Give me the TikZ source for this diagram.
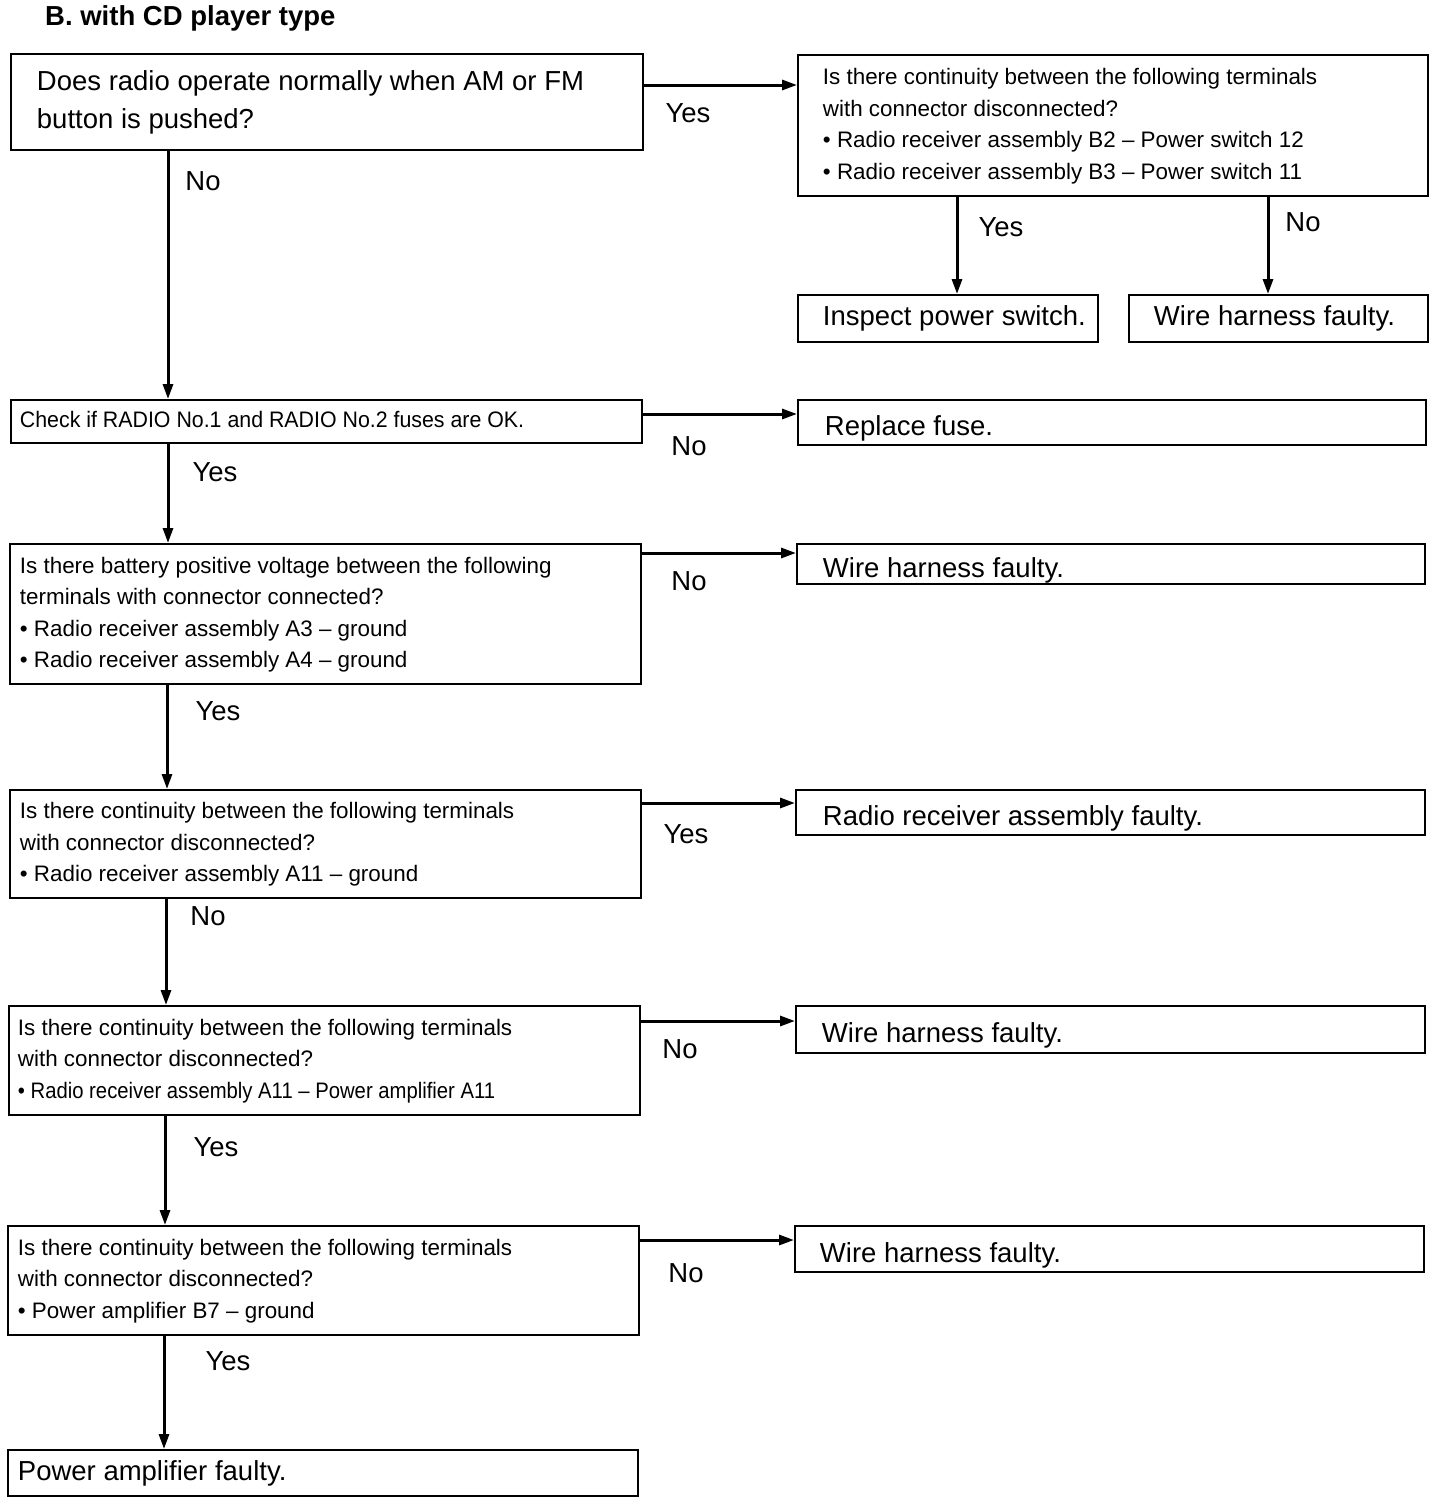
\documentclass[tikz,border=0pt]{standalone}
\usepackage{fontspec}
\setmainfont{Liberation Sans}
\usepackage{graphicx}
\usetikzlibrary{arrows.meta}
\newcommand\boxtext[3]{\makebox[#1][l]{\hspace*{#2}\begin{tabular}[c]{@{}l@{}}#3\end{tabular}}}
\newcommand\boxtextlow[3]{\makebox[#1][l]{\hspace*{#2}\raisebox{-6pt}[\height][\depth]{#3}}}
\tikzset{
  box/.style={draw, line width=1.9pt, anchor=north west, inner sep=0pt},
  small/.style={font=\fontsize{22.4}{31.5}\selectfont},
  big/.style={font=\fontsize{27.5}{37.5}\selectfont},
  lab/.style={font=\fontsize{27.5}{30}\selectfont, inner sep=0pt},
  ttl/.style={font=\fontsize{27.5}{30}\selectfont\bfseries, inner sep=0pt, anchor=west},
  arr/.style={line width=3pt, -{Triangle[length=15pt,width=10pt]}},
}
\begin{document}
\begin{tikzpicture}[x=1pt,y=-1pt]
\fill[white] (0,0) rectangle (1440,1504);
\useasboundingbox (0,0) rectangle (1440,1504);

\node[ttl] (title) at (45,18) {B. with CD player type};

\node[box, big, minimum height=96pt] (b1) at (10,53)
  {\boxtext{632pt}{26pt}{Does radio operate normally when AM or FM\\button is pushed?}};
\node[box, small, minimum height=141pt] (b2) at (797,54)
  {\boxtext{630pt}{25pt}{Is there continuity between the following terminals\\with connector disconnected?\\• Radio receiver assembly B2 – Power switch 12\\• Radio receiver assembly B3 – Power switch 11}};
\node[box, big, minimum height=47pt] (b3) at (797,294)
  {\boxtext{300pt}{25pt}{Inspect power switch.}};
\node[box, big, minimum height=47pt] (b4) at (1128,294)
  {\boxtext{299pt}{25pt}{Wire harness faulty.}};
\node[box, small, minimum height=43pt] (b5) at (10,399)
  {\boxtext{631pt}{9pt}{\scalebox{0.953}[1]{Check if RADIO No.1 and RADIO No.2 fuses are OK.}}};
\node[box, big, minimum height=45pt] (b6) at (797,399)
  {\boxtextlow{628pt}{27pt}{Replace fuse.}};
\node[box, small, minimum height=140pt] (b7) at (9,543)
  {\boxtext{631pt}{10pt}{Is there battery positive voltage between the following\\terminals with connector connected?\\• Radio receiver assembly A3 – ground\\• Radio receiver assembly A4 – ground}};
\node[box, big, minimum height=40pt] (b8) at (796,543)
  {\boxtextlow{628pt}{26pt}{Wire harness faulty.}};
\node[box, small, minimum height=108pt] (b9) at (9,789)
  {\boxtext{631pt}{10pt}{Is there continuity between the following terminals\\with connector disconnected?\\• Radio receiver assembly A11 – ground}};
\node[box, big, minimum height=45pt] (b10) at (795,789)
  {\boxtextlow{629pt}{27pt}{Radio receiver assembly faulty.}};
\node[box, small, minimum height=109pt] (b11) at (8,1005)
  {\boxtext{631pt}{9pt}{Is there continuity between the following terminals\\with connector disconnected?\\\scalebox{0.905}[1]{• Radio receiver assembly A11 – Power amplifier A11}}};
\node[box, big, minimum height=47pt] (b12) at (795,1005)
  {\boxtextlow{629pt}{26pt}{Wire harness faulty.}};
\node[box, small, minimum height=109pt] (b13) at (7,1225)
  {\boxtext{631pt}{10pt}{Is there continuity between the following terminals\\with connector disconnected?\\• Power amplifier B7 – ground}};
\node[box, big, minimum height=46pt] (b14) at (794,1225)
  {\boxtextlow{629pt}{25pt}{Wire harness faulty.}};
\node[box, big, minimum height=46pt] (b15) at (7,1449)
  {\boxtext{630pt}{10pt}{Power amplifier faulty.}};

\draw[arr] ([yshift=-32pt]b1.north east) -- ([yshift=-31pt]b2.north west);
\draw[arr] ([xshift=160pt]b2.south west) -- ([xshift=160pt]b3.north west);
\draw[arr] ([xshift=471pt]b2.south west) -- ([xshift=140pt]b4.north west);
\draw[arr] ([xshift=158pt]b1.south west) -- ([xshift=158pt]b5.north west);
\draw[arr] ([yshift=-15pt]b5.north east) -- ([yshift=-15pt]b6.north west);
\draw[arr] ([xshift=158pt]b5.south west) -- ([xshift=159pt]b7.north west);
\draw[arr] ([yshift=-10pt]b7.north east) -- ([yshift=-10pt]b8.north west);
\draw[arr] ([xshift=158pt]b7.south west) -- ([xshift=158pt]b9.north west);
\draw[arr] ([yshift=-14pt]b9.north east) -- ([yshift=-14pt]b10.north west);
\draw[arr] ([xshift=157pt]b9.south west) -- ([xshift=158pt]b11.north west);
\draw[arr] ([yshift=-16pt]b11.north east) -- ([yshift=-16pt]b12.north west);
\draw[arr] ([xshift=157pt]b11.south west) -- ([xshift=158pt]b13.north west);
\draw[arr] ([yshift=-15pt]b13.north east) -- ([yshift=-15pt]b14.north west);
\draw[arr] ([xshift=157pt]b13.south west) -- ([xshift=157pt]b15.north west);

\node[lab] (y1) at (688,113) {Yes};
\node[lab] (y2) at (1001,227) {Yes};
\node[lab] (n2) at (1303,222) {No};
\node[lab] (n1) at (203,181) {No};
\node[lab] (n3) at (689,446) {No};
\node[lab] (y3) at (215,472) {Yes};
\node[lab] (n4) at (689,581) {No};
\node[lab] (y4) at (218,711) {Yes};
\node[lab] (y5) at (686,834) {Yes};
\node[lab] (n5) at (208,916) {No};
\node[lab] (n6) at (680,1049) {No};
\node[lab] (y6) at (216,1147) {Yes};
\node[lab] (n7) at (686,1273) {No};
\node[lab] (y7) at (228,1361) {Yes};
\end{tikzpicture}
\end{document}
